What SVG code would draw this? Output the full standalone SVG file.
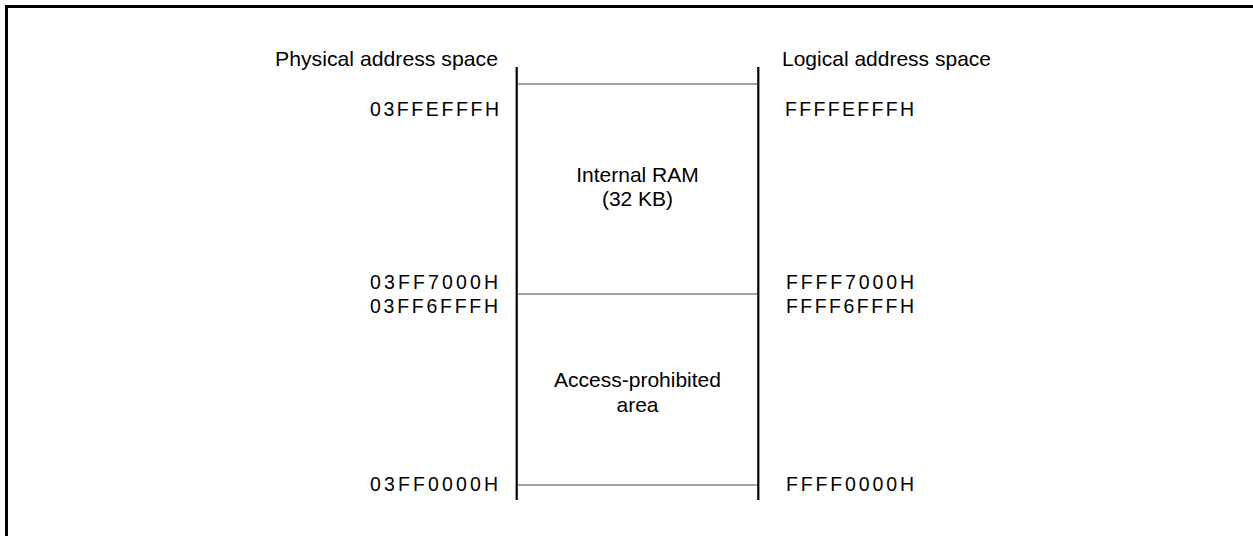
<svg xmlns="http://www.w3.org/2000/svg" width="1253" height="536" viewBox="0 0 1253 536">
<style>
.frame{stroke:#000;stroke-width:3;fill:none}
.v{stroke:#000;stroke-width:2.2;fill:none}
.h{stroke:#444;stroke-width:1.2;fill:none}
.t{font-family:"Liberation Sans",Arial,sans-serif;font-size:21px;fill:#000}
.hex{font-family:"Liberation Sans",Arial,sans-serif;font-size:19.5px;fill:#000}
.mid{text-anchor:middle}
.end{text-anchor:end}
</style>
<rect width="1253" height="536" fill="#fff"/>
<g id="frame">
<path class="frame" d="M6.5,536 V6.5 H1253"/>
</g>
<g id="headers">
<text class="t end" x="498" y="66" textLength="223" lengthAdjust="spacingAndGlyphs">Physical address space</text>
<text class="t" x="782" y="66" textLength="209" lengthAdjust="spacingAndGlyphs">Logical address space</text>
</g>
<g id="connectors">
<line class="v" x1="516.7" y1="67" x2="516.7" y2="500"/>
<line class="v" x1="758.3" y1="67" x2="758.3" y2="500"/>
<line class="h" x1="517" y1="84" x2="758" y2="84"/>
<line class="h" x1="517" y1="294" x2="758" y2="294"/>
<line class="h" x1="517" y1="485" x2="758" y2="485"/>
</g>
<g id="internal-ram">
<text class="t mid" x="637.5" y="182">Internal RAM</text>
<text class="t mid" x="637.5" y="206">(32 KB)</text>
</g>
<g id="access-prohibited">
<text class="t mid" x="637.5" y="387">Access-prohibited</text>
<text class="t mid" x="637.5" y="412">area</text>
</g>
<g id="physical-addresses">
<text class="hex" x="370" y="116" textLength="129" lengthAdjust="spacing">03FFEFFFH</text>
<text class="hex" x="370" y="288.5" textLength="128" lengthAdjust="spacing">03FF7000H</text>
<text class="hex" x="370" y="312.5" textLength="128" lengthAdjust="spacing">03FF6FFFH</text>
<text class="hex" x="370" y="490.5" textLength="128" lengthAdjust="spacing">03FF0000H</text>
</g>
<g id="logical-addresses">
<text class="hex" x="785" y="116" textLength="129" lengthAdjust="spacing">FFFFEFFFH</text>
<text class="hex" x="786" y="288.5" textLength="128" lengthAdjust="spacing">FFFF7000H</text>
<text class="hex" x="786" y="312.5" textLength="128" lengthAdjust="spacing">FFFF6FFFH</text>
<text class="hex" x="786" y="490.5" textLength="128" lengthAdjust="spacing">FFFF0000H</text>
</g>
</svg>
